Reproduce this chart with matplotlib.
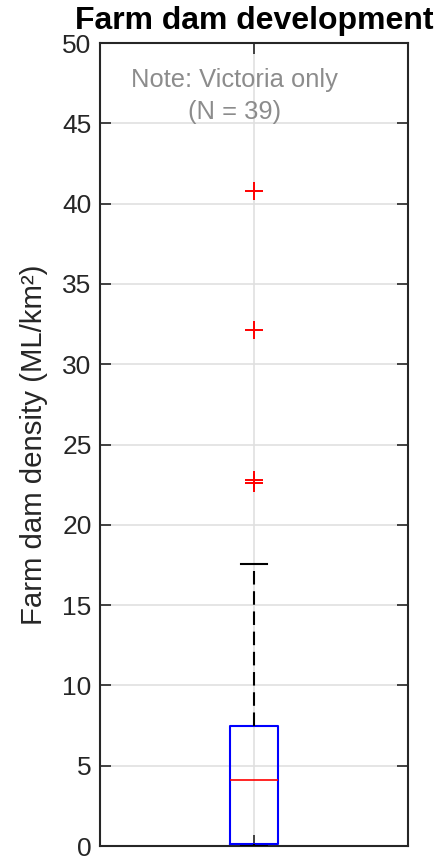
import matplotlib
matplotlib.use("Agg")
import matplotlib.pyplot as plt

# summary statistics of farm dam density, Victoria (N = 39)
q1 = 0.1
median = 4.1
q3 = 7.45
whisker_lo = 0.0
whisker_hi = 17.55
fliers = [22.6, 22.8, 32.1, 40.8]
n_sites = 39

yticks = [0, 5, 10, 15, 20, 25, 30, 35, 40, 45, 50]

plt.rcParams['font.family'] = ['Liberation Sans', 'DejaVu Sans']

fig = plt.figure(figsize=(4.37, 8.63), dpi=100)
ax = fig.add_axes([100/437, 1 - 846/863, 308/437, 803/863])

stats = [{"med": median, "q1": q1, "q3": q3, "whislo": whisker_lo,
          "whishi": whisker_hi, "fliers": fliers, "label": ""}]
ax.bxp(stats, positions=[1], widths=0.153, showcaps=True,
       boxprops=dict(color="blue", linewidth=1.5),
       medianprops=dict(color="red", linewidth=1.2),
       whiskerprops=dict(color="black", linestyle=(0, (6.5, 3.2)), linewidth=1.5),
       capprops=dict(color="black", linewidth=1.5),
       flierprops=dict(marker="+", markeredgecolor="red", markersize=13,
                       markeredgewidth=1.4, linestyle="none"),
       capwidths=0.083, zorder=3)

ax.set_xlim(0.5, 1.5)
ax.set_ylim(0, 50)
ax.set_yticks(yticks)
ax.set_xticks([1])
ax.set_xticklabels([""])
ax.grid(True, color="#e0e0e0", linewidth=1.2, zorder=0)
ax.set_axisbelow(True)
ax.tick_params(direction="in", length=8, width=1.2, color="#262626",
               labelsize=19, labelcolor="#262626", right=True, top=True, pad=6)
for s in ax.spines.values():
    s.set_color("#262626")
    s.set_linewidth(1.5)

ax.set_ylabel("Farm dam density (ML/km²)", fontsize=21.2, color="#262626", labelpad=10)
ax.set_title("Farm dam development", fontsize=23, fontweight="bold", pad=10)
ax.text(0.438, 0.969, "Note: Victoria only\n(N = %d)" % n_sites, transform=ax.transAxes,
        ha="center", va="top", fontsize=18.4, color="#8c8c8c", linespacing=1.45)

fig.savefig("out.png", dpi=100)
